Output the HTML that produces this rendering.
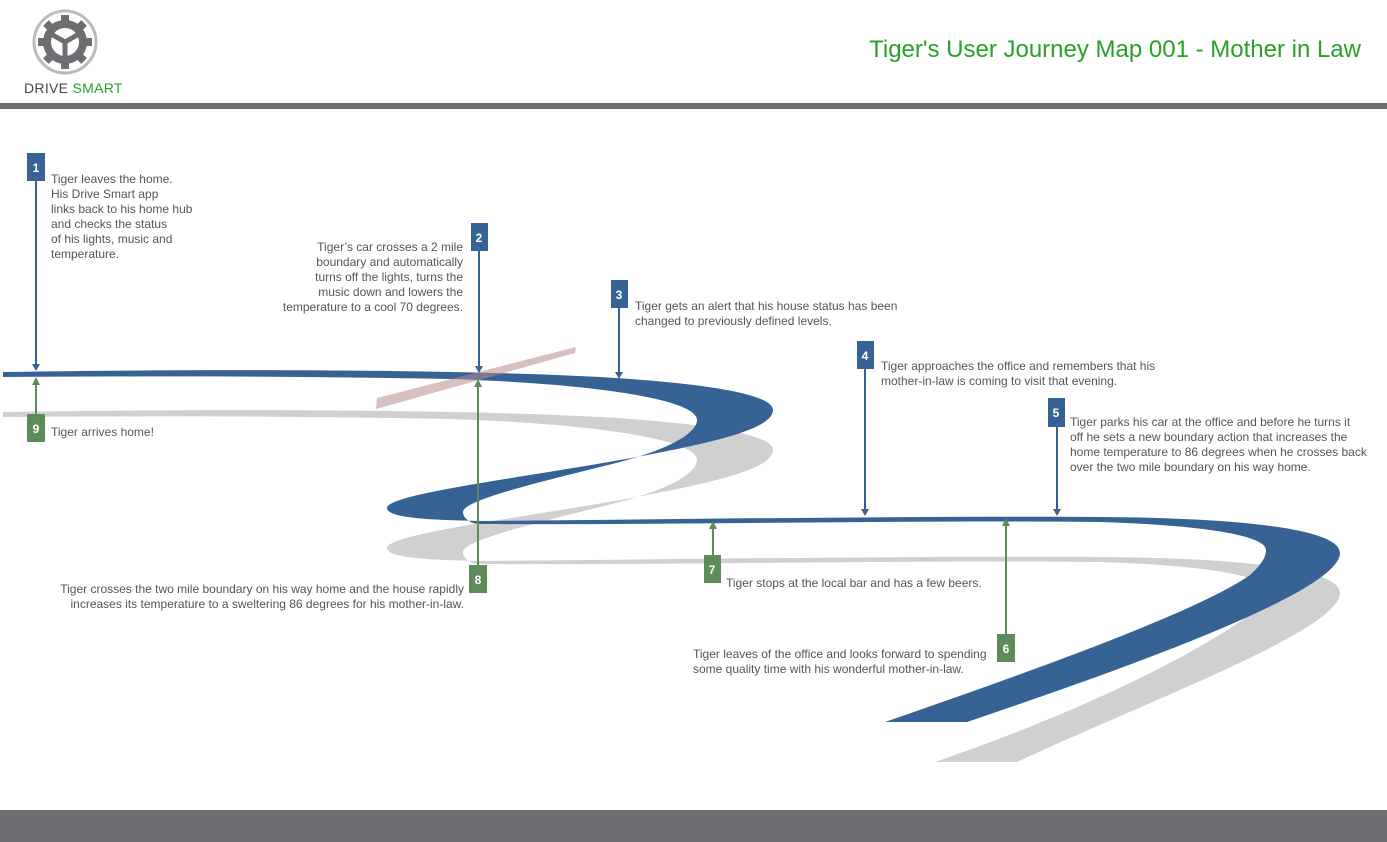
<!DOCTYPE html>
<html><head><meta charset="utf-8"><style>
body{margin:0;width:1387px;height:842px;position:relative;background:#fff;font-family:"Liberation Sans",sans-serif;overflow:hidden}
.t{position:absolute;font-size:12px;line-height:15px;color:#555;white-space:nowrap}
.r{text-align:right}
</style></head><body>
<svg width="1387" height="842" style="position:absolute;left:0;top:0">
<circle cx="65" cy="42" r="31" fill="none" stroke="#bbb" stroke-width="3"/>
<g fill="#6d6e71">
<circle cx="65" cy="42" r="22"/>
<g transform="translate(65,42)">
<rect x="-4" y="-27" width="8" height="8"/><rect x="-4" y="19" width="8" height="8"/>
<rect x="-27" y="-4" width="8" height="8"/><rect x="19" y="-4" width="8" height="8"/>
<rect x="-4" y="-27" width="8" height="8" transform="rotate(45)"/><rect x="-4" y="-27" width="8" height="8" transform="rotate(135)"/>
<rect x="-4" y="-27" width="8" height="8" transform="rotate(225)"/><rect x="-4" y="-27" width="8" height="8" transform="rotate(315)"/>
</g></g>
<circle cx="65" cy="42" r="16" fill="#fff"/>
<g stroke="#6d6e71" stroke-width="5" stroke-linecap="round"><line x1="65" y1="42" x2="51" y2="34"/><line x1="65" y1="42" x2="79" y2="34"/><line x1="65" y1="42" x2="65" y2="58"/></g>
<circle cx="65" cy="42" r="16" fill="none" stroke="#6d6e71" stroke-width="4"/>
<rect x="0" y="103" width="1387" height="6" fill="#6d6e71"/>
<rect x="0" y="810" width="1387" height="32" fill="#6d6e71"/>
<path transform="translate(0,40)" fill="#d0d0d0" d="M3,372 C200,369 450,369 600,377 C720,384 773,396 773,410 C773,428 720,442 620,460 C520,478 387,494 387,508 C387,518 430,520 480,521 C700,519 900,516 1100,517 C1250,518 1340,530 1340,553 C1340,590 1150,660 1017,722 L935,722 C1100,665 1200,610 1250,575 C1260,566 1266,558 1266,550 C1266,535 1200,525 1100,522 C900,520 700,525 480,524 C470,524 463,518 463,512 C463,500 540,482 620,462 C680,446 697,430 697,420 C697,400 600,384 450,379 C300,376 150,376 3,377 Z"/>
<path fill="#376394" d="M3,372 C200,369 450,369 600,377 C720,384 773,396 773,410 C773,428 720,442 620,460 C520,478 387,494 387,508 C387,518 430,520 480,521 C700,519 900,516 1100,517 C1250,518 1340,530 1340,553 C1340,590 1150,660 967,722 L885,722 C1050,665 1200,610 1250,575 C1260,566 1266,558 1266,550 C1266,535 1200,525 1100,522 C900,520 700,525 480,524 C470,524 463,518 463,512 C463,500 540,482 620,462 C680,446 697,430 697,420 C697,400 600,384 450,379 C300,376 150,376 3,377 Z"/>
<polygon points="377,398 576,347 575,353 376,409" fill="rgba(185,140,140,0.55)"/>
<g stroke="#376394" stroke-width="2" fill="#376394">
<line x1="36" y1="181" x2="36" y2="366"/><path d="M32,364 L36,371 L40,364Z" stroke="none"/>
<line x1="479" y1="251" x2="479" y2="368"/><path d="M475,366 L479,373 L483,366Z" stroke="none"/>
<line x1="619" y1="308" x2="619" y2="374"/><path d="M615,372 L619,379 L623,372Z" stroke="none"/>
<line x1="865" y1="369" x2="865" y2="511"/><path d="M861,509 L865,516 L869,509Z" stroke="none"/>
<line x1="1057" y1="427" x2="1057" y2="511"/><path d="M1053,509 L1057,516 L1061,509Z" stroke="none"/>
</g>
<g fill="#376394"><rect x="27" y="153" width="18" height="28"/><rect x="471" y="223" width="17" height="28"/><rect x="611" y="280" width="17" height="28"/><rect x="857" y="341" width="17" height="28"/><rect x="1048" y="398" width="17" height="29"/></g>
<g stroke="#5b8c5a" stroke-width="2" fill="#5b8c5a">
<line x1="36" y1="414" x2="36" y2="382"/><path d="M32,385 L36,377 L40,385Z" stroke="none"/>
<line x1="478" y1="565" x2="478" y2="384"/><path d="M474,387 L478,379 L482,387Z" stroke="none"/>
<line x1="713" y1="555" x2="713" y2="526"/><path d="M709,529 L713,521 L717,529Z" stroke="none"/>
<line x1="1006" y1="634" x2="1006" y2="523"/><path d="M1002,526 L1006,518 L1010,526Z" stroke="none"/>
</g>
<g fill="#5b8c5a"><rect x="27" y="414" width="18" height="28"/><rect x="469" y="565" width="18" height="28"/><rect x="704" y="555" width="17" height="28"/><rect x="997" y="634" width="18" height="28"/></g>
<g fill="#fff" font-family="Liberation Sans,sans-serif" font-size="12" font-weight="bold" text-anchor="middle">
<text x="36" y="172">1</text><text x="479" y="242">2</text><text x="619" y="299">3</text><text x="865" y="360">4</text><text x="1056" y="417">5</text>
<text x="1006" y="653">6</text><text x="712" y="574">7</text><text x="478" y="584">8</text><text x="36" y="433">9</text>
</g>
</svg>
<div style="position:absolute;left:24px;top:80px;font-size:14px;color:#444;letter-spacing:0.3px">DRIVE <span style="color:#2aa02a">SMART</span></div>
<div style="position:absolute;right:26px;top:36px;font-size:24px;color:#2aa02a">Tiger's User Journey Map 001 - Mother in Law</div>
<div class="t" style="left:51px;top:172px">Tiger leaves the home.<br>His Drive Smart app<br>links back to his home hub<br>and checks the status<br>of his lights, music and<br>temperature.</div>
<div class="t r" style="right:924px;top:240px">Tiger’s car crosses a 2 mile<br>boundary and automatically<br>turns off the lights, turns the<br>music down and lowers the<br>temperature to a cool 70 degrees.</div>
<div class="t" style="left:635px;top:299px">Tiger gets an alert that his house status has been<br>changed to previously defined levels.</div>
<div class="t" style="left:881px;top:359px">Tiger approaches the office and remembers that his<br>mother-in-law is coming to visit that evening.</div>
<div class="t" style="left:1070px;top:415px">Tiger parks his car at the office and before he turns it<br>off he sets a new boundary action that increases the<br>home temperature to 86 degrees when he crosses back<br>over the two mile boundary on his way home.</div>
<div class="t" style="left:51px;top:425px">Tiger arrives home!</div>
<div class="t r" style="right:923px;top:582px">Tiger crosses the two mile boundary on his way home and the house rapidly<br>increases its temperature to a sweltering 86 degrees for his mother-in-law.</div>
<div class="t" style="left:726px;top:576px">Tiger stops at the local bar and has a few beers.</div>
<div class="t" style="left:693px;top:647px">Tiger leaves of the office and looks forward to spending<br>some quality time with his wonderful mother-in-law.</div>
</body></html>
